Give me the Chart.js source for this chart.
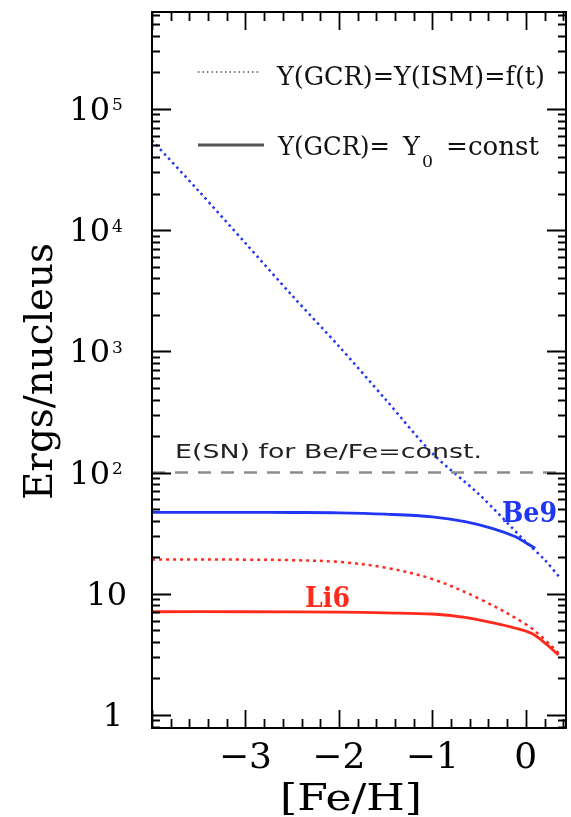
<!DOCTYPE html>
<html><head><meta charset="utf-8">
<script src="https://cdn.jsdelivr.net/npm/chart.js@4"></script>
<style>html,body{margin:0;padding:0;background:#fff}canvas{display:block}</style>
</head><body>
<canvas id="c" width="571" height="817"></canvas>
<script>
// ---- data ----
const be9VarX   = [-4, -3.5, -3, -2.5, -2, -1.5, -1, -0.5, 0, 0.2, 0.37];
const be9VarY   = [55000, 21000, 7800, 2880, 1100, 400, 144, 66, 26.8, 19.1, 13.4];
const be9ConstX = [-4, -3, -2.5, -2, -1.5, -1, -0.65, -0.36, -0.11, 0, 0.1];
const be9ConstY = [46.9, 46.9, 46.8, 46.5, 45.3, 43.1, 39.4, 34.6, 29.5, 26.3, 23.7];
const li6VarX   = [-4, -3, -2.5, -2, -1.5, -1, -0.5, 0, 0.2, 0.35];
const li6VarY   = [19.2, 19.1, 18.9, 18.3, 16.4, 13.2, 9.1, 5.6, 4.2, 3.23];
const li6ConstX = [-4, -3, -2, -1.5, -1, -0.65, -0.36, -0.11, 0.06, 0.2, 0.35];
const li6ConstY = [7.1, 7.1, 7.05, 6.95, 6.8, 6.38, 5.77, 5.19, 4.71, 3.95, 3.12];
const snLineX   = [-4, 0.43];
const snLineY   = [100, 100];

const xTickValues = [-3, -2, -1, 0];
const xTickLabels = ['−3', '−2', '−1', '0'];
const yTickValues = [1, 10, 100, 1000, 10000, 100000];
const yTickBases  = ['1', '10', '10', '10', '10', '10'];
const yTickExps   = ['', '', '2', '3', '4', '5'];
const legend1Text = 'Y(GCR)=Y(ISM)=f(t)';
const legend2Parts = ['Y(GCR)=', 'Y', '0', '=const'];
const snText = 'E(SN) for Be/Fe=const.';
const be9Label = 'Be9';
const li6Label = 'Li6';
const xTitle = '[Fe/H]';
const yTitle = 'Ergs/nucleus';

const BLUE = '#2036f4';
const RED = '#ff2a1c';

function pts(xs, ys) { return xs.map((x, i) => ({ x: x, y: ys[i] })); }

function fitText(ctx, text, x, y, w, align) {
  const m = ctx.measureText(text).width;
  const s = w / m;
  ctx.save();
  ctx.translate(x, y);
  ctx.scale(s, 1);
  ctx.textAlign = 'left';
  ctx.fillText(text, align === 'center' ? -m / 2 : (align === 'right' ? -m : 0), 0);
  ctx.restore();
}

const framePlugin = {
  id: 'framePlugin',
  afterDraw(chart) {
    const ctx = chart.ctx;
    const a = chart.chartArea;
    const xs = chart.scales.x, ys = chart.scales.y;
    ctx.save();
    ctx.strokeStyle = '#000';
    ctx.fillStyle = '#000';
    // frame
    ctx.lineWidth = 2;
    ctx.strokeRect(a.left, a.top, a.right - a.left, a.bottom - a.top);
    ctx.lineWidth = 1.8;
    // x ticks (bottom and top)
    for (let k = -20; k <= 2; k++) {
      const v = k * 0.2;
      const px = Math.round(xs.getPixelForValue(v)) + 0.5;
      if (px < a.left || px > a.right) continue;
      const major = (k % 5 === 0);
      const len = major ? 18 : 9;
      ctx.beginPath();
      ctx.moveTo(px, a.bottom); ctx.lineTo(px, a.bottom - len);
      ctx.moveTo(px, a.top); ctx.lineTo(px, a.top + len);
      ctx.stroke();
    }
    // y ticks (left and right)
    for (let e = -1; e <= 5; e++) {
      for (let m = 1; m <= 9; m++) {
        const v = m * Math.pow(10, e);
        const py = Math.round(ys.getPixelForValue(v)) + 0.5;
        if (py < a.top || py > a.bottom) continue;
        const len = (m === 1) ? 19 : 8;
        ctx.beginPath();
        ctx.moveTo(a.left, py); ctx.lineTo(a.left + len, py);
        ctx.moveTo(a.right, py); ctx.lineTo(a.right - len, py);
        ctx.stroke();
      }
    }
    // x tick labels
    ctx.font = '36px "DejaVu Serif"';
    ctx.textBaseline = 'alphabetic';
    xTickValues.forEach((v, i) => {
      const px = xs.getPixelForValue(v);
      ctx.textAlign = 'center';
      ctx.fillText(xTickLabels[i], px, 768);
    });
    // y tick labels
    yTickValues.forEach((v, i) => {
      const py = ys.getPixelForValue(v);
      ctx.textAlign = 'right';
      ctx.font = '32px "DejaVu Serif"';
      if (yTickExps[i]) {
        ctx.fillText(yTickBases[i], 110, py + 11);
        ctx.font = '17px "DejaVu Serif"';
        ctx.textAlign = 'left';
        ctx.fillText(yTickExps[i], 112, py + 1.5);
      } else {
        ctx.fillText(yTickBases[i], i === 0 ? 123 : 127, py + 11);
      }
    });
    // axis titles
    ctx.font = '37px "DejaVu Serif"';
    fitText(ctx, xTitle, 351, 810, 142, 'center');
    ctx.save();
    ctx.translate(52, 371.5);
    ctx.rotate(-Math.PI / 2);
    ctx.font = '39px "DejaVu Serif"';
    fitText(ctx, yTitle, 0, 0, 257, 'center');
    ctx.restore();
    // legend
    ctx.strokeStyle = '#555';
    ctx.lineWidth = 1.5;
    ctx.setLineDash([1.5, 3]);
    ctx.beginPath(); ctx.moveTo(198, 72); ctx.lineTo(259, 72); ctx.stroke();
    ctx.setLineDash([]);
    ctx.lineWidth = 3;
    ctx.beginPath(); ctx.moveTo(198, 145); ctx.lineTo(264, 145); ctx.stroke();
    ctx.fillStyle = '#111';
    ctx.font = '26px "DejaVu Serif"';
    fitText(ctx, legend1Text, 277, 85, 268, 'left');
    fitText(ctx, legend2Parts[0], 278, 155, 112, 'left');
    fitText(ctx, legend2Parts[1], 403, 155, 17, 'left');
    ctx.font = '16px "DejaVu Serif"';
    fitText(ctx, legend2Parts[2], 422, 167, 11, 'left');
    ctx.font = '26px "DejaVu Serif"';
    fitText(ctx, legend2Parts[3], 446, 155, 93, 'left');
    // SN annotation
    ctx.fillStyle = '#222';
    ctx.font = '19px "DejaVu Sans"';
    fitText(ctx, snText, 175, 458, 307, 'left');
    // curve labels
    ctx.font = 'bold 27px "DejaVu Serif"';
    ctx.fillStyle = BLUE;
    fitText(ctx, be9Label, 502, 521.5, 55, 'left');
    ctx.fillStyle = RED;
    fitText(ctx, li6Label, 305, 606.5, 45, 'left');
    ctx.restore();
  }
};

new Chart(document.getElementById('c'), {
  type: 'line',
  data: {
    datasets: [
      { data: pts(snLineX, snLineY), borderColor: '#8c8c8c', borderWidth: 2.5, borderDash: [13, 10], pointRadius: 0, tension: 0 },
      { data: pts(be9VarX, be9VarY), borderColor: BLUE, borderWidth: 2.5, borderDash: [2.5, 3.5], pointRadius: 0, tension: 0.3 },
      { data: pts(be9ConstX, be9ConstY), borderColor: BLUE, borderWidth: 2.8, pointRadius: 0, tension: 0.35 },
      { data: pts(li6VarX, li6VarY), borderColor: RED, borderWidth: 2.5, borderDash: [3, 4], pointRadius: 0, tension: 0.35 },
      { data: pts(li6ConstX, li6ConstY), borderColor: RED, borderWidth: 2.8, pointRadius: 0, tension: 0.35 }
    ]
  },
  options: {
    responsive: false,
    devicePixelRatio: 1,
    animation: false,
    layout: { padding: { left: 152, right: 5, top: 12, bottom: 89 } },
    plugins: { legend: { display: false }, tooltip: { enabled: false } },
    scales: {
      x: { type: 'linear', min: -4, max: 0.43, display: false },
      y: { type: 'logarithmic', min: 0.78, max: 630000, display: false }
    }
  },
  plugins: [framePlugin]
});
</script>
</body></html>
